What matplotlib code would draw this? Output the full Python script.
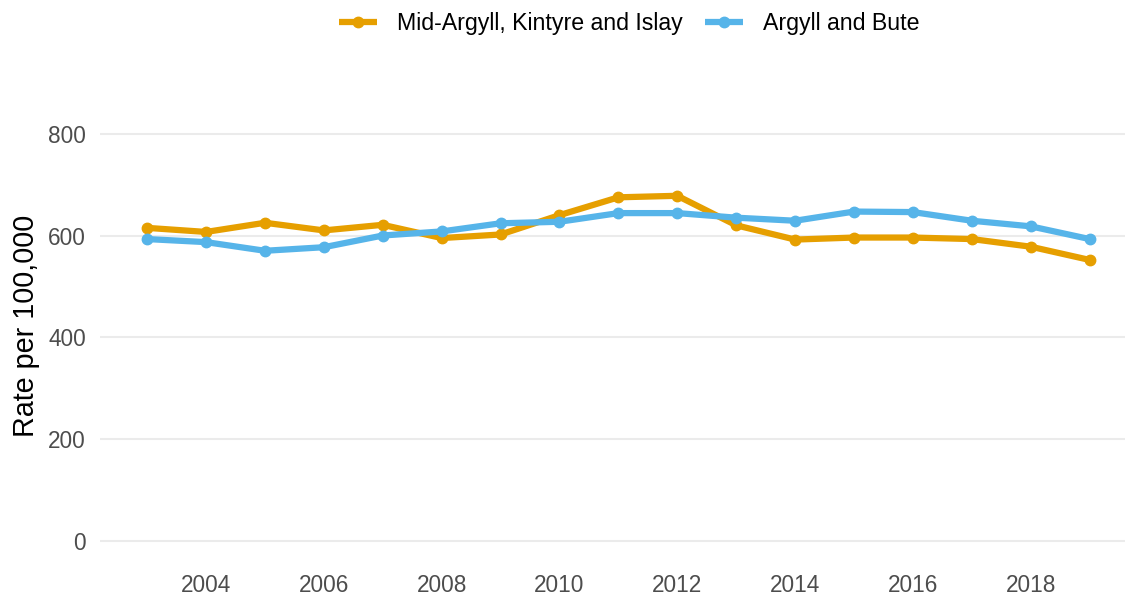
import matplotlib
matplotlib.use("Agg")
import matplotlib.pyplot as plt

plt.rcParams['font.family'] = ['Liberation Sans', 'DejaVu Sans']

years = list(range(2003, 2020))
mid_argyll = [615, 607, 625, 610, 621, 595, 602, 640, 675, 678, 620, 592, 596, 596, 593, 578, 552]
argyll_bute = [593, 587, 570, 577, 600, 608, 624, 627, 644, 644, 635, 629, 647, 646, 629, 618, 593]
series_names = ['Mid-Argyll, Kintyre and Islay', 'Argyll and Bute']
series_colors = ['#E69F00', '#56B4E9']
y_ticks = [0, 200, 400, 600, 800]
x_ticks = [2004, 2006, 2008, 2010, 2012, 2014, 2016, 2018]

fig = plt.figure(figsize=(11.25, 5.95), dpi=100)
ax = fig.add_axes([0.0889, 0.0608, 0.9111, 0.783])

for vals, name, col in zip([mid_argyll, argyll_bute], series_names, series_colors):
    ax.plot(years, vals, color=col, lw=4.5, marker='o', ms=7.5,
            solid_capstyle='butt', label=name)

ax.set_xlim(2002.2, 2019.6)
ax.set_ylim(-35, 880)
ax.set_yticks(y_ticks)
ax.set_xticks(x_ticks)
ax.grid(axis='y', color='#ebebeb', lw=1.5)
ax.set_axisbelow(True)
for s in ax.spines.values():
    s.set_visible(False)
ax.tick_params(length=0, labelsize=16.3, labelcolor='#4d4d4d')
ax.tick_params(axis='y', pad=10)
ax.tick_params(axis='x', pad=11)
ax.set_ylabel('Rate per 100,000', fontsize=20.7, color='black')
# label's right edge sits about 40 px from the figure's left edge
ax.yaxis.set_label_coords((40 - 100) / 1025, 0.5)

fig.legend(loc='center', bbox_to_anchor=(0.559, 0.96), ncol=2, frameon=False,
           fontsize=16.7, handlelength=1.64, columnspacing=0.95, handletextpad=0.86)

fig.savefig('out.png', dpi=100)
